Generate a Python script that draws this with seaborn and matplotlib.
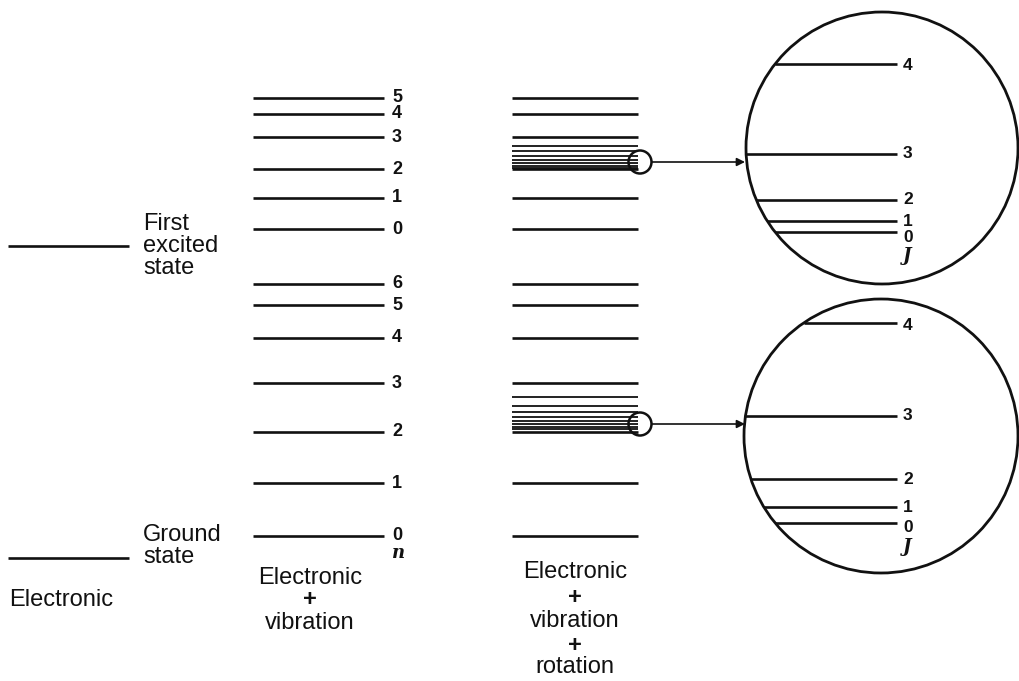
import numpy as np
import seaborn as sns
from matplotlib import pyplot as plt
from matplotlib.patches import Circle

sns.set_theme(style="white")
plt.rcParams['font.family'] = ['Liberation Sans', 'DejaVu Sans']

# level heights (image rows, smaller = higher energy)
electronic_levels = [246, 558]
electronic_names = ["First\nexcited\nstate", "Ground\nstate"]

vib_upper = [229, 198, 169, 137, 114, 98]
vib_upper_labels = ["0", "1", "2", "3", "4", "5"]
vib_lower = [536, 483, 432, 383, 338, 305, 284]
vib_lower_labels = ["0", "1", "2", "3", "4", "5", "6"]

# rotational fine structure sitting on v = 2
rot_upper = [168, 166, 163, 160, 156, 151, 146]
rot_lower = [429, 427, 424, 421, 417, 412, 406, 397]

# magnified J levels inside the circles
J_upper = [232, 221, 200, 154, 64]
J_lower = [523, 507, 479, 416, 323]
J_labels = ["0", "1", "2", "3", "4"]
J_label_shift = [5, 0, 0, 0, 2]

fig = plt.figure(figsize=(10.2, 6.81), dpi=100)
ax = fig.add_axes([0, 0, 1, 1])
ax.set_xlim(0, 1020)
ax.set_ylim(681, 0)
ax.axis("off")

lw = 1.9
black = "#111111"
fs = 17

# column 1: electronic
ax.hlines(electronic_levels, 8, 129, color=black, lw=lw)
ax.text(143, electronic_levels[0], electronic_names[0], fontsize=fs, va="center",
        ha="left", linespacing=1.0, color=black)
ax.text(143, electronic_levels[1] - 12, electronic_names[1], fontsize=fs, va="center",
        ha="left", linespacing=1.0, color=black)
ax.text(9, 600, "Electronic", fontsize=fs, va="center", color=black)

# column 2: electronic + vibration
ax.hlines(vib_upper + vib_lower, 253, 384, color=black, lw=lw)
for y, lab in zip(vib_upper, vib_upper_labels):
    ax.text(392, y, lab, fontsize=13, fontweight="bold", va="center", color=black)
for y, lab in zip(vib_lower, vib_lower_labels):
    ax.text(392, y, lab, fontsize=13, fontweight="bold", va="center", color=black)
ax.text(392, 553, "n", fontsize=13, fontweight="bold", style="italic",
        family="DejaVu Serif", va="center", color=black)
ax.text(310, 578, "Electronic", fontsize=fs, ha="center", va="center", color=black)
ax.text(310, 600, "+", fontsize=fs, fontweight="bold", ha="center", va="center", color=black)
ax.text(310, 623, "vibration", fontsize=fs, ha="center", va="center", color=black)

# column 3: electronic + vibration + rotation
ax.hlines(vib_upper + vib_lower, 512, 638, color=black, lw=lw)
ax.hlines(rot_upper + rot_lower, 512, 638, color=black, lw=1.3)
for y, word in zip([572, 597, 621, 645, 667],
                   ["Electronic", "+", "vibration", "+", "rotation"]):
    ax.text(575, y, word, fontsize=fs, ha="center", va="center", color=black,
            fontweight="bold" if word == "+" else "normal")

# small circles + arrows into the magnified views
for cy in [162, 424]:
    ax.add_patch(Circle((640, cy), 11.5, fill=False, ec=black, lw=1.8))
    ax.annotate("", xy=(745, cy), xytext=(652, cy),
                arrowprops=dict(arrowstyle="-|>", color=black, lw=1.2,
                                mutation_scale=12, shrinkA=0, shrinkB=0))

# magnified circles
for (cx, cy, r), levels in [((882, 148, 136), J_upper), ((881, 436, 137), J_lower)]:
    ax.add_patch(Circle((cx, cy), r, fill=False, ec=black, lw=2.0))
    for y, lab, dy in zip(levels, J_labels, J_label_shift):
        x0 = cx - np.sqrt(r ** 2 - (y - cy) ** 2)
        ax.hlines(y, x0, 897, color=black, lw=lw)
        ax.text(903, y + dy, lab, fontsize=12.5, fontweight="bold", va="center", color=black)
    ax.text(903, levels[0] + 24, "J", fontsize=13, fontweight="bold", style="italic",
            family="DejaVu Serif", va="center", color=black)

plt.savefig("out.png", dpi=100, facecolor="white")
